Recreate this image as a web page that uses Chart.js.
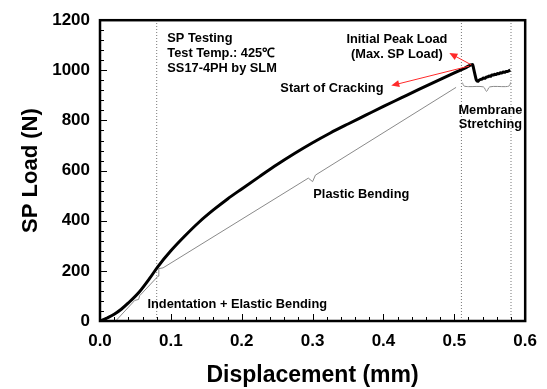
<!DOCTYPE html>
<html>
<head>
<meta charset="utf-8">
<script src="https://cdn.jsdelivr.net/npm/chart.js@4"></script>
<style>
  body { margin: 0; background: #fff; }
  canvas { display: block; }
</style>
</head>
<body>
<canvas id="spChart" width="547" height="389"></canvas>
<script>
// SP 曲線數據 (位移 mm, 荷載 N)
const disp = [0, 0.005, 0.01, 0.02, 0.03, 0.04, 0.056, 0.07, 0.082, 0.1, 0.12, 0.14, 0.16, 0.18, 0.2,
    0.225, 0.25, 0.275, 0.3, 0.325, 0.35, 0.375, 0.4, 0.425, 0.45, 0.475, 0.5, 0.515, 0.526,
    0.527, 0.529, 0.531, 0.533, 0.535, 0.537, 0.539, 0.541, 0.543, 0.545, 0.547, 0.549, 0.551,
    0.553, 0.555, 0.557, 0.559, 0.561, 0.563, 0.565, 0.567, 0.569, 0.571, 0.573, 0.575, 0.577, 0.579];
const load = [0, 5, 12, 27, 47, 72, 118, 170, 218, 280, 340, 395, 443, 487, 527,
    576, 624, 669, 711, 750, 786, 821, 856, 890, 924, 957, 990, 1009, 1023,
    1010, 985, 962, 956, 961, 964, 965, 969, 968, 973, 974, 977, 976,
    981, 981, 984, 983, 987, 986, 990, 989, 993, 992, 995, 995, 998, 1001];

// 灰色標註線 (各階段括號)
const stageX = [0.0234, 0.049, 0.0545, 0.056, 0.082, 0.083, 0.089, 0.294, 0.3, 0.304, 0.5025];
const stageY = [4, 82, 86, 101, 179, 209, 212, 570, 556, 582, 932];
const braceX = [0.5115, 0.5135, 0.52, 0.541, 0.5455, 0.55, 0.572, 0.5775, 0.5795];
const braceY = [951, 938, 935, 934, 916, 934, 935, 938, 952];

// 垂直虛線位置
const guideX = [0.08, 0.51, 0.58];

// 文字標註
const notes = [
    { text: 'SP Testing', x: 0.095, y: 1126, align: 'left' },
    { text: 'Test Temp.: 425\u2103', x: 0.095, y: 1067, align: 'left' },
    { text: 'SS17-4PH by SLM', x: 0.095, y: 1009, align: 'left' },
    { text: 'Initial Peak Load', x: 0.419, y: 1122, align: 'center' },
    { text: '(Max. SP Load)', x: 0.419, y: 1064, align: 'center' },
    { text: 'Start of Cracking', x: 0.4, y: 927, align: 'right' },
    { text: 'Membrane', x: 0.551, y: 841, align: 'center' },
    { text: 'Stretching', x: 0.551, y: 783, align: 'center' },
    { text: 'Plastic Bending', x: 0.301, y: 506, align: 'left' },
    { text: 'Indentation + Elastic Bending', x: 0.067, y: 66, align: 'left' }
];

// 紅色箭頭 [起點x, 起點y, 終點x, 終點y]
const arrows = [
    [0.524, 1022, 0.493, 1069],
    [0.521, 1017, 0.411, 939]
];

const FONT = "Arial, 'Liberation Sans', sans-serif";

function toPts(xs, ys) {
    return xs.map((x, i) => ({ x: x, y: ys[i] }));
}

const datasets = [
    {
        label: 'SP curve',
        data: toPts(disp, load),
        borderColor: '#000',
        borderWidth: 3,
        cubicInterpolationMode: 'monotone',
        order: 0
    },
    {
        label: 'stages',
        data: toPts(stageX, stageY),
        borderColor: '#8a8a8a',
        borderWidth: 1,
        order: 1
    },
    {
        label: 'brace',
        data: toPts(braceX, braceY),
        borderColor: '#8a8a8a',
        borderWidth: 1,
        tension: 0.3,
        order: 1
    }
];

guideX.forEach(gx => {
    datasets.push({
        label: 'guide',
        data: [{ x: gx, y: 0 }, { x: gx, y: 1200 }],
        borderColor: '#777',
        borderWidth: 1,
        borderDash: [1, 2],
        order: 2
    });
});

// 邊框、內向刻度、文字和箭頭
const decorPlugin = {
    id: 'decor',
    afterDatasetsDraw(chart) {
        const ctx = chart.ctx;
        const xs = chart.scales.x;
        const ys = chart.scales.y;
        const area = chart.chartArea;
        ctx.save();

        // 刻度
        ctx.strokeStyle = '#000';
        ctx.lineWidth = 1;
        for (let v = 0; v <= 1200; v += 40) {
            const py = Math.round(ys.getPixelForValue(v)) + 0.5;
            const len = v % 200 === 0 ? 7 : 4;
            ctx.beginPath();
            ctx.moveTo(area.left, py);
            ctx.lineTo(area.left + len, py);
            ctx.stroke();
        }
        for (let i = 0; i <= 30; i++) {
            const px = Math.round(xs.getPixelForValue(i * 0.02)) + 0.5;
            const len = i % 5 === 0 ? 7 : 4;
            ctx.beginPath();
            ctx.moveTo(px, area.bottom);
            ctx.lineTo(px, area.bottom - len);
            ctx.stroke();
        }

        // 邊框
        ctx.lineWidth = 2.5;
        ctx.strokeRect(area.left, area.top, area.right - area.left, area.bottom - area.top);

        // 文字
        ctx.fillStyle = '#000';
        ctx.font = 'bold 12.8px ' + FONT;
        ctx.textBaseline = 'middle';
        notes.forEach(n => {
            ctx.textAlign = n.align;
            ctx.fillText(n.text, xs.getPixelForValue(n.x), ys.getPixelForValue(n.y));
        });

        // 箭頭
        ctx.strokeStyle = '#ff2a2a';
        ctx.fillStyle = '#ff2a2a';
        ctx.lineWidth = 1;
        arrows.forEach(a => {
            const x1 = xs.getPixelForValue(a[0]), y1 = ys.getPixelForValue(a[1]);
            const x2 = xs.getPixelForValue(a[2]), y2 = ys.getPixelForValue(a[3]);
            const ang = Math.atan2(y2 - y1, x2 - x1);
            ctx.beginPath();
            ctx.moveTo(x1, y1);
            ctx.lineTo(x2 - 6 * Math.cos(ang), y2 - 6 * Math.sin(ang));
            ctx.stroke();
            ctx.beginPath();
            ctx.moveTo(x2, y2);
            ctx.lineTo(x2 - 8 * Math.cos(ang) + 3.5 * Math.sin(ang), y2 - 8 * Math.sin(ang) - 3.5 * Math.cos(ang));
            ctx.lineTo(x2 - 8 * Math.cos(ang) - 3.5 * Math.sin(ang), y2 - 8 * Math.sin(ang) + 3.5 * Math.cos(ang));
            ctx.closePath();
            ctx.fill();
        });

        ctx.restore();
    }
};

const ctx = document.getElementById('spChart').getContext('2d');
new Chart(ctx, {
    type: 'scatter',
    data: { datasets: datasets },
    options: {
        responsive: false,
        animation: false,
        showLine: true,
        elements: {
            point: { radius: 0, hoverRadius: 0 },
            line: { tension: 0, fill: false }
        },
        layout: {
            padding: { top: 13, right: 19, left: 0, bottom: 0 }
        },
        plugins: {
            legend: { display: false },
            tooltip: { enabled: false }
        },
        scales: {
            x: {
                type: 'linear',
                min: 0,
                max: 0.6,
                grid: { display: false, drawTicks: false },
                border: { display: false },
                ticks: {
                    stepSize: 0.1,
                    padding: 10,
                    color: '#000',
                    font: { family: FONT, size: 17, weight: 'bold' },
                    callback: v => v.toFixed(1)
                },
                title: {
                    display: true,
                    text: 'Displacement (mm)',
                    color: '#000',
                    font: { family: FONT, size: 23, weight: 'bold' },
                    padding: { top: 4, bottom: 0 }
                },
                afterFit: scale => { scale.height = 68; }
            },
            y: {
                type: 'linear',
                min: 0,
                max: 1200,
                grid: { display: false, drawTicks: false },
                border: { display: false },
                ticks: {
                    stepSize: 200,
                    padding: 10,
                    color: '#000',
                    font: { family: FONT, size: 17, weight: 'bold' },
                    callback: v => String(v)
                },
                title: {
                    display: true,
                    text: 'SP Load (N)',
                    color: '#000',
                    font: { family: FONT, size: 22, weight: 'bold' },
                    padding: { top: 18, bottom: 4 }
                },
                afterFit: scale => { scale.width = 100; }
            }
        }
    },
    plugins: [decorPlugin]
});
</script>
</body>
</html>
